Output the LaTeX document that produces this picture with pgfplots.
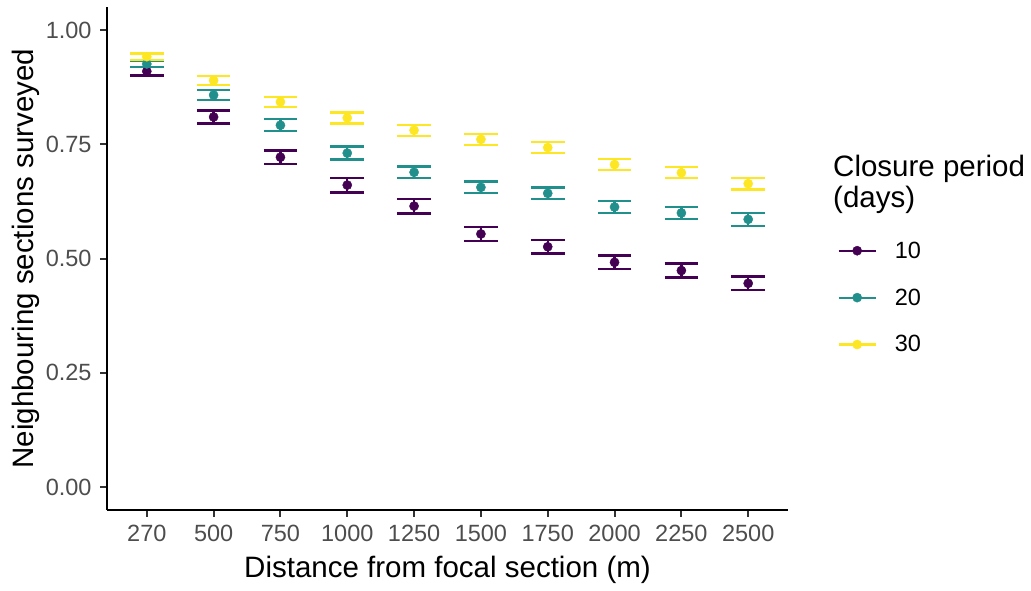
\documentclass[border=0pt]{standalone}
\usepackage{pgfplots}
\usepackage{pgfplotstable}
\pgfplotsset{compat=1.18}
\usepackage{fontspec}
\setmainfont{Liberation Sans}

\definecolor{v10}{HTML}{440154}
\definecolor{v20}{HTML}{21908C}
\definecolor{v30}{HTML}{FDE725}
\definecolor{ticktext}{HTML}{4D4D4D}
\definecolor{tickline}{HTML}{333333}

% proportion of neighbouring sections surveyed (mean and half-width of the interval)
\pgfplotstableread{
x y e
0 0.910 0.009
1 0.810 0.014
2 0.722 0.015
3 0.661 0.016
4 0.615 0.016
5 0.554 0.015
6 0.526 0.015
7 0.492 0.015
8 0.474 0.015
9 0.446 0.015
}\closureTen
\pgfplotstableread{
x y e
0 0.926 0.007
1 0.858 0.011
2 0.792 0.013
3 0.731 0.014
4 0.689 0.013
5 0.656 0.013
6 0.643 0.013
7 0.613 0.013
8 0.600 0.013
9 0.586 0.014
}\closureTwenty
\pgfplotstableread{
x y e
0 0.942 0.007
1 0.890 0.010
2 0.843 0.011
3 0.808 0.012
4 0.781 0.012
5 0.761 0.012
6 0.743 0.012
7 0.706 0.012
8 0.688 0.012
9 0.664 0.013
}\closureThirty

\pgfplotsset{
  closure/.style={
    only marks, mark=*, mark size=4.6pt, color=#1,
    legend image code/.code={
      \draw[line width=2.2pt] (0pt,0pt) -- (37pt,0pt);
      \fill (18.5pt,0pt) circle (4.6pt);
    },
    error bars/.cd,
      y dir=both, y explicit,
      error bar style={line width=2.4pt, color=#1},
      error mark options={rotate=90, line width=2.4pt, mark size=16.8pt, color=#1},
  },
}

\begin{document}
\begin{tikzpicture}
\useasboundingbox (0,0) rectangle (1031pt,590pt);
\begin{axis}[
  at={(106.7pt,80pt)}, anchor=south west,
  scale only axis, width=681.6pt, height=502.7pt,
  xmin=-0.6, xmax=9.6, ymin=-0.05, ymax=1.05,
  axis lines*=left,
  axis line style={line width=2pt, black},
  tick align=outside, major tick length=6.7pt,
  tick style={line width=2pt, tickline},
  xtick={0,...,9},
  xticklabels={270,500,750,1000,1250,1500,1750,2000,2250,2500},
  ytick={0,0.25,0.5,0.75,1},
  yticklabels={0.00,0.25,0.50,0.75,1.00},
  /pgf/number format/assume math mode=true,
  ticklabel style={font=\fontsize{23.5}{28}\selectfont, text=ticktext, inner sep=0pt},
  xticklabel style={anchor=base, yshift=-25pt},
  yticklabel style={anchor=east, xshift=-8.3pt},
  label style={font=\fontsize{29.5}{35}\selectfont, inner sep=0pt},
  xlabel={Distance from focal section (m)},
  ylabel={Neighbouring sections surveyed},
  xlabel style={at={(axis description cs:0.5,-0.1333)}, anchor=base},
  ylabel style={at={(axis description cs:-0.1077,0.5)}, anchor=base},
  legend cell align=left,
  legend style={draw=none, fill=none, inner sep=0pt,
    at={(axis description cs:1.072,0.534)}, anchor=north west,
    row sep=29pt, column sep=18pt,
    font=\fontsize{23.5}{28}\selectfont,
    nodes={inner sep=0pt}},
  clip=false,
]
\addplot[closure=v10] table[x=x, y=y, y error=e] {\closureTen};
\addlegendentry{10}
\addplot[closure=v20] table[x=x, y=y, y error=e] {\closureTwenty};
\addlegendentry{20}
\addplot[closure=v30] table[x=x, y=y, y error=e] {\closureThirty};
\addlegendentry{30}

\node[anchor=base west, inner sep=0pt, font=\fontsize{29.5}{35}\selectfont]
  at (axis description cs:1.0656,0.663) {Closure period};
\node[anchor=base west, inner sep=0pt, font=\fontsize{29.5}{35}\selectfont]
  at (axis description cs:1.0656,0.601) {(days)};
\end{axis}
\end{tikzpicture}
\end{document}
